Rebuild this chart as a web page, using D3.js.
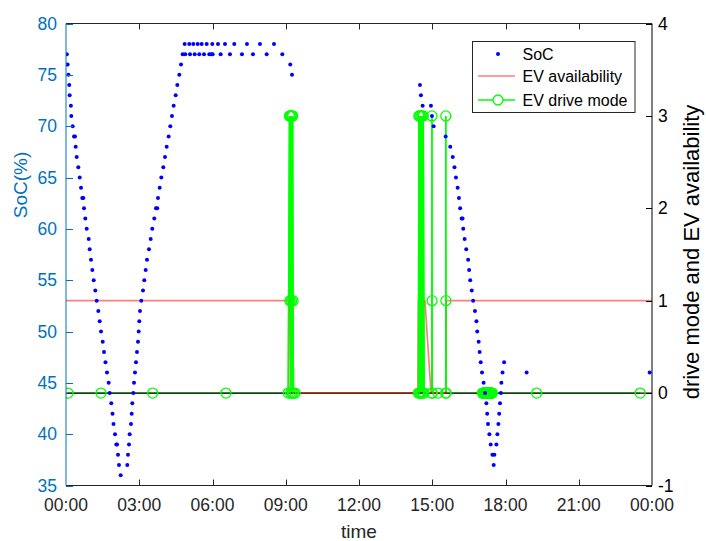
<!DOCTYPE html>
<html><head><meta charset="utf-8">
<script src="https://cdn.jsdelivr.net/npm/d3@7"></script>
<style>body{margin:0;background:#fff}svg{display:block}</style>
</head><body><svg id="c" width="706" height="541"></svg>
<script>
// time in minutes after midnight
const socTimes = [2,4,6,8,9,12,13,16.5,19.7,22.1,23.8,26.3,30.2,33.7,36.9,40,42.5,44.2,47.4,50.9,55.8,58.2,61.4,64.6,68.1,72,75.4,79.4,82.8,86,90.2,93.4,97,100.7,104.9,107.4,111.3,114.3,116.7,120.4,123.6,125.5,127.8,130.2,134.4,
150.6,152.3,154.8,156.5,159.7,161.4,162.9,165.4,167.1,169.5,172,174.4,176.9,178.6,180.1,181.8,185,189.2,192.4,195.8,199,203.9,208.1,212,216.9,221.1,224.3,226,230.2,234.2,239.1,243.2,247.4,252.3,256.3,260.4,264.6,269.5,273.5,278.4,282.6,
286.7,291.6,293.1,302.9,304.7,312.8,316.2,323.6,327.5,333.4,339.1,345.7,352.1,357,359.5,360.4,373.5,380.1,390.7,402.9,413.5,432.4,444.7,459.4,476.6,493.1,511.1,531.5,551.1,555.3,
869.8,872.2,876.4,896.8,899.3,903.4,932.9,944.2,950.4,954.6,958.2,962.4,965.6,968.6,972.3,974.5,976.2,979.6,983.5,988.2,990.6,993.3,997,1000.5,1004.9,1008.6,1010.5,1014,1016.4,1019.1,1022.3,1026.2,1029.8,1033,1035,1037,1040.4,1043.6,1047.8,1051,1052.7,1057.6,1060.1,1062.5,1064.5,1066.5,1068.8,1069.9,1072.7,1076.6,1131.9,1434.2];
const socValues = [77,76,75,74,73,72,71,70,69,69,68,67,66,65,64,63,63,62,61,60,59,58,57,56,55,54,53,52,51,50,49,48,47,46,45,44,43,42,41,40,39,39,38,37,36,
37,38,39,40,41,42,43,44,45,46,47,48,49,50,51,52,53,54,55,56,57,58,59,60,61,62,62,63,64,65,66,67,68,69,70,71,72,73,74,75,76,
77,78,77,78,77,78,77,78,77,78,77,78,77,77,78,77,78,77,78,77,78,77,78,77,78,77,78,77,76,75,
74,73,72,72,71,70,69,68,67,66,65,64,63,62,61,61,60,59,58,57,56,55,54,53,52,51,50,49,48,47,46,45,44,43,42,41,40,39,38,37,38,39,40,41,42,43,44,45,46,47,46,46];

const modeTimes = [5,86,213,393,
546,549,550,551,552,553,554,555,556,557,558,559,563,
866,867,868,869,870.5,872,873.5,875,876.5,878,880,
899,899.3,899.6,899.9,914,933,933.3,933.6,934,
1023.5,1024.25,1025,1025.75,1026.5,1027.25,1028,1028.75,1029.5,1030.25,1031,1031.75,1032.5,1033.25,1034,1034.75,1035.5,1036.25,1037,1037.75,1038.5,1039.25,1040,1040.75,1041.5,1042.25,1043,1043.75,1044.5,1045.25,1046,1046.75,1047.5,
1156.5,1411];
const modeValues = [0,0,0,0,
0,3,1,3,0,3,1,3,0,3,1,0,0,
0,3,0,3,0,3,0,3,0,3,0,
0,3,1,0,0,0,3,1,0,
0,0,0,0,0,0,0,0,0,0,0,0,0,0,0,0,0,0,0,0,0,0,0,0,0,0,0,0,0,0,0,0,0,
0,0];

const availTimes = [0,550,551,865,866,882,897,933,934,1440];
const availValues = [1,1,0,0,1,1,0,0,1,1];

const baseTimes = [0,1440];
const baseValues = [0,0];

const timeTicks = [0,180,360,540,720,900,1080,1260,1440];
const timeTickLabels = ["00:00","03:00","06:00","09:00","12:00","15:00","18:00","21:00","00:00"];
const socTicks = [35,40,45,50,55,60,65,70,75,80];
const rightTicks = [-1,0,1,2,3,4];

const L=66, R=652, T=23.5, B=485.5;
const blue="#0072BD", dark="#262626";
const font="'Liberation Sans', Arial, sans-serif";
const svg=d3.select("#c");
const x=d3.scaleLinear().domain([0,1440]).range([L,R]);
const yL=d3.scaleLinear().domain([35,80]).range([B,T]);
const yR=d3.scaleLinear().domain([-1,4]).range([B,T]);

svg.append("rect").attr("width",706).attr("height",541).attr("fill","#fff");

const defs=svg.append("defs");
defs.append("clipPath").attr("id","clip").append("rect")
  .attr("x",L).attr("y",T).attr("width",R-L).attr("height",B-T);
const y0=yR(0);
const cp2=defs.append("clipPath").attr("id","clipOff0");
cp2.append("rect").attr("x",L).attr("y",T).attr("width",R-L).attr("height",y0-1.6-T);
cp2.append("rect").attr("x",L).attr("y",y0+1.6).attr("width",R-L).attr("height",B-y0-1.6);
const pg=svg.append("g").attr("clip-path","url(#clip)");

const line=(ys)=>d3.line().x(d=>x(d[0])).y(d=>ys(d[1]));
const zipp=(a,b)=>a.map((t,i)=>[t,b[i]]);
const md=zipp(modeTimes,modeValues);

pg.append("path").datum(md).attr("d",line(yR))
  .attr("fill","none").attr("stroke","#00ff00").attr("stroke-width",1.4);
pg.append("path").datum(zipp(baseTimes,baseValues)).attr("d",line(yR))
  .attr("fill","none").attr("stroke","#000").attr("stroke-width",1.2);
pg.append("path").datum(zipp(availTimes,availValues)).attr("d",line(yR))
  .attr("fill","none").attr("stroke","#ff0000").attr("stroke-opacity",0.5).attr("stroke-width",1.7);
// drive-mode verticals stay on top of the availability line
pg.append("g").attr("clip-path","url(#clipOff0)").append("path").datum(md).attr("d",line(yR))
  .attr("fill","none").attr("stroke","#00ff00").attr("stroke-width",1.4);
pg.selectAll("circle.m").data(md).enter().append("circle").attr("class","m")
  .attr("cx",d=>x(d[0])).attr("cy",d=>yR(d[1])).attr("r",5)
  .attr("fill","none").attr("stroke","#00ff00").attr("stroke-width",1.3);
pg.selectAll("circle.s").data(zipp(socTimes,socValues)).enter().append("circle").attr("class","s")
  .attr("cx",d=>x(d[0])).attr("cy",d=>yL(d[1])).attr("r",2).attr("fill","#0000ff");

// axes box
const ax=svg.append("g");
ax.append("line").attr("x1",L).attr("x2",R).attr("y1",T).attr("y2",T).attr("stroke",dark).attr("stroke-width",1);
ax.append("line").attr("x1",L).attr("x2",R).attr("y1",B).attr("y2",B).attr("stroke",dark).attr("stroke-width",1);
ax.append("line").attr("x1",L).attr("x2",L).attr("y1",T).attr("y2",B).attr("stroke",blue).attr("stroke-width",1);
ax.append("line").attr("x1",R).attr("x2",R).attr("y1",T).attr("y2",B).attr("stroke","#000").attr("stroke-width",1);

timeTicks.forEach((t,i)=>{
  const xx=Math.round(x(t))+0.5;
  if(i>0&&i<timeTicks.length-1){
    ax.append("line").attr("x1",xx).attr("x2",xx).attr("y1",B).attr("y2",B-6).attr("stroke",dark);
    ax.append("line").attr("x1",xx).attr("x2",xx).attr("y1",T).attr("y2",T+6).attr("stroke",dark);
  }
  ax.append("text").attr("x",x(t)).attr("y",511).attr("text-anchor","middle")
    .attr("font-family",font).attr("font-size",17.5).attr("fill",dark).text(timeTickLabels[i]);
});
socTicks.forEach(v=>{
  const yy=Math.round(yL(v))+0.5;
  ax.append("line").attr("x1",L).attr("x2",L+7).attr("y1",yy).attr("y2",yy).attr("stroke",blue);
  ax.append("text").attr("x",57).attr("y",yL(v)+6).attr("text-anchor","end")
    .attr("font-family",font).attr("font-size",17.5).attr("fill",blue).text(v);
});
rightTicks.forEach(v=>{
  const yy=Math.round(yR(v))+0.5;
  ax.append("line").attr("x1",R).attr("x2",R-6).attr("y1",yy).attr("y2",yy).attr("stroke","#000");
  ax.append("text").attr("x",658).attr("y",yR(v)+6).attr("text-anchor","start")
    .attr("font-family",font).attr("font-size",17.5).attr("fill","#000").text(v);
});
svg.append("text").attr("x",(L+R)/2).attr("y",538).attr("text-anchor","middle")
  .attr("font-family",font).attr("font-size",19).attr("fill",dark).text("time");
svg.append("text").attr("transform","translate(27,185) rotate(-90)").attr("text-anchor","middle")
  .attr("font-family",font).attr("font-size",19).attr("fill",blue).text("SoC(%)");
svg.append("text").attr("transform","translate(699,252) rotate(-90)").attr("text-anchor","middle")
  .attr("font-family",font).attr("font-size",22).attr("fill","#000").text("drive mode and EV availability");

// legend
const lg=svg.append("g");
lg.append("rect").attr("x",472.5).attr("y",41.5).attr("width",162.5).attr("height",71)
  .attr("fill","#fff").attr("stroke",dark).attr("stroke-width",1);
const items=["SoC","EV availability","EV drive mode"];
const ly=[54,76,100];
lg.append("circle").attr("cx",498).attr("cy",ly[0]).attr("r",2).attr("fill","#0000ff");
lg.append("line").attr("x1",478).attr("x2",515).attr("y1",ly[1]).attr("y2",ly[1]).attr("stroke","#ff0000").attr("stroke-opacity",0.5).attr("stroke-width",1.7);
lg.append("line").attr("x1",478).attr("x2",515).attr("y1",ly[2]).attr("y2",ly[2]).attr("stroke","#00ff00").attr("stroke-width",1.4);
lg.append("circle").attr("cx",498).attr("cy",ly[2]).attr("r",5).attr("fill","#fff").attr("stroke","#00ff00").attr("stroke-width",1.3);
items.forEach((s,i)=>{
  lg.append("text").attr("x",522.5).attr("y",ly[i]+5.5).attr("font-family",font).attr("font-size",16)
    .attr("fill","#000").text(s);
});
</script></body></html>
